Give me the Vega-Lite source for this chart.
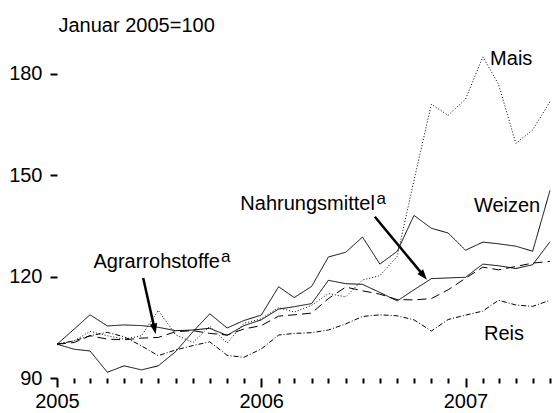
{
  "$schema": "https://vega.github.io/schema/vega-lite/v6.json",
  "width": 493,
  "height": 338,
  "autosize": {"type": "none"},
  "padding": {"left": 57, "top": 40, "right": 2, "bottom": 35},
  "background": "white",
  "config": {
    "view": {"stroke": null},
    "font": "Liberation Sans",
    "axis": {"grid": false, "labelFont": "Liberation Sans", "titleFont": "Liberation Sans", "labelColor": "black", "tickColor": "black", "titleColor": "black"}
  },
  "datasets": {
    "preise": [
      {"datum": "2005-01-01", "Mais": 100, "Weizen": 100, "Reis": 100, "Nahrungsmittel": 100, "Agrarrohstoffe": 100},
      {"datum": "2005-02-01", "Mais": 101, "Weizen": 98.5, "Reis": 101, "Nahrungsmittel": 104.5, "Agrarrohstoffe": 100.5},
      {"datum": "2005-03-01", "Mais": 103.8, "Weizen": 98, "Reis": 102.5, "Nahrungsmittel": 108.7, "Agrarrohstoffe": 102.5},
      {"datum": "2005-04-01", "Mais": 102.5, "Weizen": 91.7, "Reis": 103.5, "Nahrungsmittel": 105.4, "Agrarrohstoffe": 101.5},
      {"datum": "2005-05-01", "Mais": 101.5, "Weizen": 93.6, "Reis": 102.2, "Nahrungsmittel": 105.7, "Agrarrohstoffe": 101.3},
      {"datum": "2005-06-01", "Mais": 102.5, "Weizen": 92.4, "Reis": 99.5, "Nahrungsmittel": 105.5, "Agrarrohstoffe": 101.8},
      {"datum": "2005-07-01", "Mais": 110, "Weizen": 93.6, "Reis": 96.6, "Nahrungsmittel": 105, "Agrarrohstoffe": 102},
      {"datum": "2005-08-01", "Mais": 102.8, "Weizen": 97.8, "Reis": 98.3, "Nahrungsmittel": 104, "Agrarrohstoffe": 103.7},
      {"datum": "2005-09-01", "Mais": 100.5, "Weizen": 103.7, "Reis": 99.6, "Nahrungsmittel": 104.2, "Agrarrohstoffe": 104},
      {"datum": "2005-10-01", "Mais": 105.3, "Weizen": 109, "Reis": 100.7, "Nahrungsmittel": 104.7, "Agrarrohstoffe": 103.2},
      {"datum": "2005-11-01", "Mais": 100.3, "Weizen": 104.8, "Reis": 96.7, "Nahrungsmittel": 102.6, "Agrarrohstoffe": 102.7},
      {"datum": "2005-12-01", "Mais": 106.2, "Weizen": 107, "Reis": 96.1, "Nahrungsmittel": 105.5, "Agrarrohstoffe": 104.5},
      {"datum": "2006-01-01", "Mais": 107.5, "Weizen": 108.6, "Reis": 98.6, "Nahrungsmittel": 107.2, "Agrarrohstoffe": 105.5},
      {"datum": "2006-02-01", "Mais": 110.8, "Weizen": 117, "Reis": 102.7, "Nahrungsmittel": 110.4, "Agrarrohstoffe": 108.3},
      {"datum": "2006-03-01", "Mais": 109.5, "Weizen": 113.8, "Reis": 103.2, "Nahrungsmittel": 111.1, "Agrarrohstoffe": 108.7},
      {"datum": "2006-04-01", "Mais": 111.5, "Weizen": 117.1, "Reis": 103.4, "Nahrungsmittel": 112, "Agrarrohstoffe": 109.2},
      {"datum": "2006-05-01", "Mais": 115, "Weizen": 125.8, "Reis": 104.2, "Nahrungsmittel": 118.9, "Agrarrohstoffe": 113.5},
      {"datum": "2006-06-01", "Mais": 114, "Weizen": 127.2, "Reis": 106, "Nahrungsmittel": 117.9, "Agrarrohstoffe": 116.9},
      {"datum": "2006-07-01", "Mais": 119, "Weizen": 131.7, "Reis": 108.2, "Nahrungsmittel": 117.7, "Agrarrohstoffe": 115.8},
      {"datum": "2006-08-01", "Mais": 120.3, "Weizen": 123.7, "Reis": 108.7, "Nahrungsmittel": 115.3, "Agrarrohstoffe": 114.8},
      {"datum": "2006-09-01", "Mais": 126, "Weizen": 127.5, "Reis": 108.4, "Nahrungsmittel": 112.8, "Agrarrohstoffe": 113.2},
      {"datum": "2006-10-01", "Mais": 148.5, "Weizen": 138.1, "Reis": 107.2, "Nahrungsmittel": 116.1, "Agrarrohstoffe": 113.1},
      {"datum": "2006-11-01", "Mais": 171, "Weizen": 134.3, "Reis": 103.9, "Nahrungsmittel": 119.4, "Agrarrohstoffe": 113.5},
      {"datum": "2006-12-01", "Mais": 167.7, "Weizen": 132.9, "Reis": 107.3, "Nahrungsmittel": 119.6, "Agrarrohstoffe": 116.1},
      {"datum": "2007-01-01", "Mais": 172.5, "Weizen": 127.8, "Reis": 108.6, "Nahrungsmittel": 119.8, "Agrarrohstoffe": 119.5},
      {"datum": "2007-02-01", "Mais": 185, "Weizen": 130.2, "Reis": 109.8, "Nahrungsmittel": 123.7, "Agrarrohstoffe": 122.8},
      {"datum": "2007-03-01", "Mais": 176.9, "Weizen": 129.7, "Reis": 113, "Nahrungsmittel": 123.2, "Agrarrohstoffe": 122},
      {"datum": "2007-04-01", "Mais": 159.4, "Weizen": 129, "Reis": 111.6, "Nahrungsmittel": 122.4, "Agrarrohstoffe": 123},
      {"datum": "2007-05-01", "Mais": 163.4, "Weizen": 127.5, "Reis": 111.2, "Nahrungsmittel": 123.5, "Agrarrohstoffe": 124},
      {"datum": "2007-06-01", "Mais": 171.8, "Weizen": 145.5, "Reis": 113, "Nahrungsmittel": 130.3, "Agrarrohstoffe": 124.5}
    ],
    "texte_links": [
      {"datum": "2007-02-14", "wert": 182.6, "text": "Mais"},
      {"datum": "2007-01-16", "wert": 139.1, "text": "Weizen"},
      {"datum": "2007-02-03", "wert": 101.2, "text": "Reis"}
    ],
    "texte_rechts": [
      {"datum": "2006-07-23", "wert": 139.7, "text": "Nahrungsmittel"},
      {"datum": "2005-10-19", "wert": 122.5, "text": "Agrarrohstoffe"}
    ],
    "fussnoten": [
      {"datum": "2006-07-26", "wert": 141.4, "text": "a"},
      {"datum": "2005-10-21", "wert": 124.2, "text": "a"}
    ],
    "pfeile": [
      {"name": "Nahrungsmittel", "datum": "2006-07-23", "wert": 137.7, "datum2": "2006-10-17", "wert2": 120.5},
      {"name": "Agrarrohstoffe", "datum": "2005-06-04", "wert": 119.6, "datum2": "2005-06-24", "wert2": 104.8}
    ]
  },
  "layer": [
    {
      "data": {"name": "preise"},
      "transform": [{"fold": ["Mais", "Weizen", "Reis", "Agrarrohstoffe", "Nahrungsmittel"], "as": ["reihe", "wert"]}],
      "mark": {"type": "line", "color": "black"},
      "encoding": {
        "x": {
          "field": "datum", "type": "temporal",
          "scale": {"type": "utc", "nice": false, "domain": [{"year": 2005, "month": 1, "date": 1, "utc": true}, {"year": 2007, "month": 6, "date": 1, "utc": true}]},
          "axis": {
            "title": null, "domain": false,
            "tickCount": {"interval": "month", "step": 1},
            "tickSize": {"condition": {"test": "utcmonth(datum.value) === 0", "value": 9}, "value": 5},
            "tickWidth": 2,
            "labelExpr": "utcmonth(datum.value) === 0 ? utcFormat(datum.value, '%Y') : ''",
            "labelFlush": false, "labelOverlap": false, "labelBound": false,
            "labelFontSize": 20, "labelPadding": 4
          }
        },
        "y": {
          "field": "wert", "type": "quantitative",
          "scale": {"domain": [90, 190], "nice": false, "zero": false},
          "axis": {
            "values": [90, 120, 150, 180], "domain": false,
            "tickSize": 7, "tickWidth": 2, "labelFontSize": 20, "labelPadding": 8,
            "title": "Januar 2005=100", "titleAngle": 0, "titleAlign": "left", "titleBaseline": "alphabetic",
            "titleX": 1, "titleY": -9, "titleFontSize": 20, "titleFontWeight": "normal"
          }
        },
        "detail": {"field": "reihe"},
        "strokeDash": {"field": "reihe", "type": "nominal", "legend": null,
          "scale": {"domain": ["Mais", "Weizen", "Reis", "Agrarrohstoffe", "Nahrungsmittel"], "range": [[1, 2], [1, 0], [5, 2, 1, 2], [9, 5], [1, 0]]}},
        "strokeWidth": {"field": "reihe", "type": "ordinal", "legend": null,
          "scale": {"domain": ["Mais", "Weizen", "Reis", "Agrarrohstoffe", "Nahrungsmittel"], "range": [1, 1, 1, 2.8, 2.8]}}
      }
    },
    {
      "data": {"name": "pfeile"},
      "mark": {"type": "rule", "color": "black", "strokeWidth": 2.5},
      "encoding": {
        "x": {"field": "datum", "type": "temporal"},
        "y": {"field": "wert", "type": "quantitative"},
        "x2": {"field": "datum2"},
        "y2": {"field": "wert2"}
      }
    },
    {
      "data": {"name": "pfeile"},
      "transform": [{"filter": "datum.name === 'Nahrungsmittel'"}],
      "mark": {"type": "point", "shape": "M0,1L-0.6,-0.7L0.6,-0.7Z", "filled": true, "color": "black", "opacity": 1, "size": 150, "angle": -39.5},
      "encoding": {
        "x": {"field": "datum2", "type": "temporal"},
        "y": {"field": "wert2", "type": "quantitative"}
      }
    },
    {
      "data": {"name": "pfeile"},
      "transform": [{"filter": "datum.name === 'Agrarrohstoffe'"}],
      "mark": {"type": "point", "shape": "M0,1L-0.6,-0.7L0.6,-0.7Z", "filled": true, "color": "black", "opacity": 1, "size": 150, "angle": -12},
      "encoding": {
        "x": {"field": "datum2", "type": "temporal"},
        "y": {"field": "wert2", "type": "quantitative"}
      }
    },
    {
      "data": {"name": "texte_links"},
      "mark": {"type": "text", "align": "left", "baseline": "alphabetic", "fontSize": 20, "font": "Liberation Sans", "color": "black"},
      "encoding": {
        "x": {"field": "datum", "type": "temporal"},
        "y": {"field": "wert", "type": "quantitative"},
        "text": {"field": "text"}
      }
    },
    {
      "data": {"name": "texte_rechts"},
      "mark": {"type": "text", "align": "right", "baseline": "alphabetic", "fontSize": 20, "font": "Liberation Sans", "color": "black"},
      "encoding": {
        "x": {"field": "datum", "type": "temporal"},
        "y": {"field": "wert", "type": "quantitative"},
        "text": {"field": "text"}
      }
    },
    {
      "data": {"name": "fussnoten"},
      "mark": {"type": "text", "align": "left", "baseline": "alphabetic", "fontSize": 17, "font": "Liberation Sans", "color": "black"},
      "encoding": {
        "x": {"field": "datum", "type": "temporal"},
        "y": {"field": "wert", "type": "quantitative"},
        "text": {"field": "text"}
      }
    }
  ]
}
